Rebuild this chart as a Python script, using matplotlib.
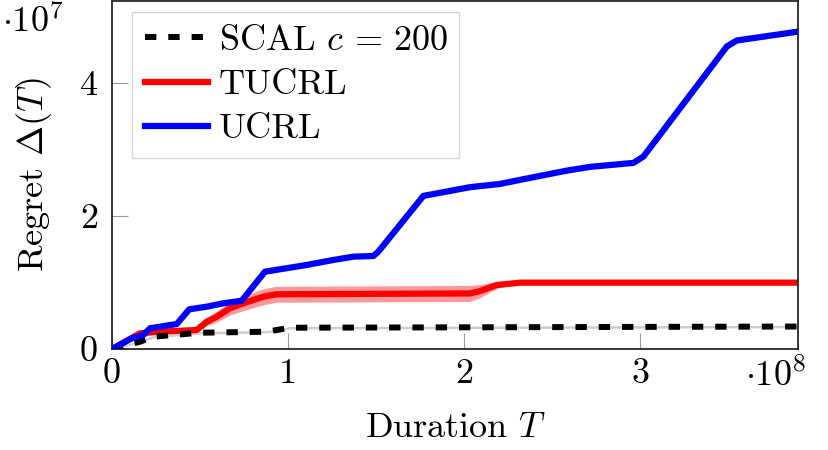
import numpy as np
import matplotlib
matplotlib.use("Agg")
import matplotlib.pyplot as plt

plt.rcParams['font.family'] = 'serif'
plt.rcParams['font.serif'] = ['cmr10']
plt.rcParams['mathtext.fontset'] = 'cm'
plt.rcParams['axes.unicode_minus'] = False

# durations in units of 1e8, regret in units of 1e7
ucrl_x = [0, 0.112, 0.178, 0.216, 0.368, 0.439, 0.538, 0.632, 0.737, 0.869, 1.106, 1.257,
          1.371, 1.485, 1.513, 1.769, 2.034, 2.205, 2.337, 2.584, 2.716, 2.962, 3.019,
          3.493, 3.549, 3.9]
ucrl_y = [0, 0.161, 0.21, 0.311, 0.376, 0.597, 0.636, 0.687, 0.726, 1.162, 1.263, 1.338,
          1.388, 1.398, 1.463, 2.301, 2.432, 2.481, 2.552, 2.681, 2.737, 2.797, 2.892,
          4.546, 4.636, 4.771]

tucrl_x = [0, 0.159, 0.273, 0.481, 0.538, 0.595, 0.67, 0.746, 0.86, 0.936, 2.034, 2.09,
           2.186, 2.318, 3.9]
tucrl_y = [0, 0.236, 0.26, 0.286, 0.41, 0.486, 0.612, 0.687, 0.786, 0.823, 0.835, 0.87,
           0.962, 0.997, 0.997]
tucrl_std = [0, 0.02, 0.03, 0.04, 0.06, 0.08, 0.1, 0.11, 0.12, 0.12, 0.12, 0.1,
             0.05, 0.0, 0.0]

scal_x = [0, 0.159, 0.235, 0.5, 0.879, 1.011, 3.9]
scal_y = [0, 0.11, 0.185, 0.245, 0.26, 0.32, 0.338]
scal_std = [0, 0.01, 0.01, 0.01, 0.01, 0.01, 0.01]

fs = 26

fig = plt.figure(figsize=(8.29, 4.5), dpi=100)
ax = fig.add_axes([0.1351, 0.2244, 0.9632 - 0.1351, 0.9978 - 0.2244])

sx, sy, ss = np.array(scal_x), np.array(scal_y), np.array(scal_std)
tx, ty, ts = np.array(tucrl_x), np.array(tucrl_y), np.array(tucrl_std)

ax.fill_between(sx, sy - ss, sy + ss, color='0.8', lw=0.8, zorder=1)
ax.plot(sx, sy, color='black', lw=4.3, linestyle=(0, (1.9, 2.0)), label=r'SCAL $c\,=\,200$', zorder=3)
ax.fill_between(tx, ty - ts, ty + ts, color='#ff9999', lw=0, zorder=1)
ax.plot(tx, ty, color='red', lw=4.5, label='TUCRL', zorder=2, solid_joinstyle='round')
ax.plot(ucrl_x, ucrl_y, color='blue', lw=4.5, label='UCRL', zorder=4, solid_joinstyle='round')

ax.set_xlim(0, 3.9)
ax.set_ylim(0, 5.23)
ax.set_xticks([0, 1, 2, 3])
ax.set_yticks([0, 2, 4])
ax.tick_params(direction='in', length=11.5, width=0.8, color='0.6', labelsize=fs)
ax.tick_params(axis='x', pad=7)
ax.tick_params(axis='y', pad=10)
for s in ax.spines.values():
    s.set_linewidth(1.3)
    s.set_color('0.15')

ax.set_xlabel(r'Duration $T$', fontsize=fs, labelpad=16)
ax.set_ylabel(r'Regret $\Delta(T)$', fontsize=fs, labelpad=19)
fig.text(0.003, 0.99, r'$\cdot 10^{7}$', fontsize=fs, ha='left', va='top')
fig.text(0.935, 0.205, r'$\cdot 10^{8}$', fontsize=fs, ha='center', va='top')

leg = ax.legend(loc='upper left', fontsize=fs, frameon=True, fancybox=False,
                edgecolor='0.8', handlelength=1.75, handletextpad=0.3,
                labelspacing=0.33, borderpad=0.35, borderaxespad=0,
                mode='expand', bbox_to_anchor=(0.0292, 0.0, 0.4767, 0.968))
leg.get_frame().set_linewidth(1.0)

fig.savefig('out.png', dpi=100)
